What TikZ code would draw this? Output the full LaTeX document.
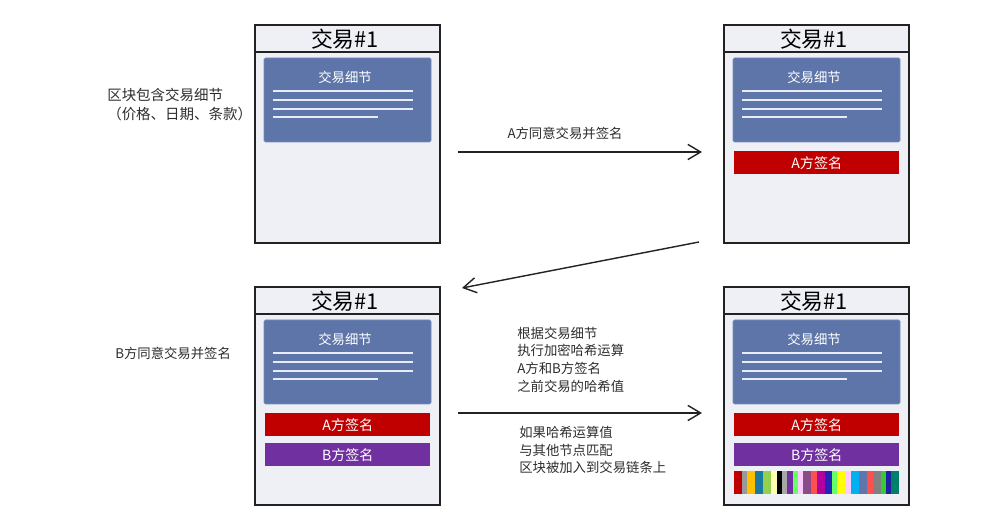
\documentclass[tikz,border=0pt]{standalone}
\usepackage{fontspec}
\setmainfont{Noto Sans CJK SC}
\usepackage{xcolor}
\usepackage{tikz}
\usetikzlibrary{arrows.meta}
\definecolor{blockFill}{RGB}{239,240,246}
\definecolor{blockEdge}{RGB}{34,34,34}
\definecolor{detailBlue}{RGB}{94,117,170}
\definecolor{detailLine}{RGB}{232,236,246}
\definecolor{signRed}{RGB}{192,0,0}
\definecolor{signPurple}{RGB}{112,48,160}
\definecolor{noteGray}{RGB}{45,45,45}

\begin{document}
\begin{tikzpicture}[x=0.025cm, y=-0.025cm,
  blockbox/.style={draw=blockEdge, fill=blockFill, line width=1.3pt},
  headline/.style={draw=blockEdge, line width=1.3pt},
  detailbox/.style={fill=detailBlue, draw=detailBlue!85!white, line width=0.4pt, rounded corners=1pt},
  detailline/.style={draw=detailLine, line width=1.1pt},
  titletext/.style={font=\fontsize{15.5}{18}\selectfont, text=black, inner sep=0pt},
  boxtext/.style={font=\fontsize{9.5}{11}\selectfont, text=white, inner sep=0pt},
  signbar/.style={anchor=north west, minimum width=4.125cm, minimum height=0.575cm, inner sep=0pt, font=\fontsize{10}{11}\selectfont, text=white},
  notetext/.style={font=\fontsize{9.5}{12.6}\selectfont, text=noteGray, align=left, inner sep=0pt, anchor=west},
  flow/.style={draw=blockEdge, line width=1pt, -{Straight Barb[length=3.2mm,width=3.8mm]}}
]
\useasboundingbox (0,0) rectangle (1000,523);

%
\begin{scope}[shift={(255,25)}]
\draw[blockbox] (0,0) rectangle (185,218);
\draw[headline] (0,27) -- (185,27);
\node[titletext] (title1) at (90,14) {交易\#1};
\draw[detailbox] (9,33) rectangle (176,117);
\node[boxtext] (detail1) at (90,52) {交易细节};
\foreach \y/\e in {66/158,75/158,84/158,92/123} \draw[detailline] (18,\y) -- (\e,\y);
\end{scope}

%
\begin{scope}[shift={(724,25)}]
\draw[blockbox] (0,0) rectangle (185,218);
\draw[headline] (0,27) -- (185,27);
\node[titletext] (title2) at (90,14) {交易\#1};
\draw[detailbox] (9,33) rectangle (176,117);
\node[boxtext] (detail2) at (90,52) {交易细节};
\foreach \y/\e in {66/158,75/158,84/158,92/123} \draw[detailline] (18,\y) -- (\e,\y);
\node[signbar, fill=signRed] (signA2) at (10,126) {A方签名};
\end{scope}

%
\begin{scope}[shift={(255,287)}]
\draw[blockbox] (0,0) rectangle (185,218);
\draw[headline] (0,27) -- (185,27);
\node[titletext] (title3) at (90,14) {交易\#1};
\draw[detailbox] (9,33) rectangle (176,117);
\node[boxtext] (detail3) at (90,52) {交易细节};
\foreach \y/\e in {66/158,75/158,84/158,92/123} \draw[detailline] (18,\y) -- (\e,\y);
\node[signbar, fill=signRed] (signA3) at (10,126) {A方签名};
\node[signbar, fill=signPurple] (signB3) at (10,156) {B方签名};
\end{scope}

%
\begin{scope}[shift={(724,287)}]
\draw[blockbox] (0,0) rectangle (185,218);
\draw[headline] (0,27) -- (185,27);
\node[titletext] (title4) at (90,14) {交易\#1};
\draw[detailbox] (9,33) rectangle (176,117);
\node[boxtext] (detail4) at (90,52) {交易细节};
\foreach \y/\e in {66/158,75/158,84/158,92/123} \draw[detailline] (18,\y) -- (\e,\y);
\node[signbar, fill=signRed] (signA4) at (10,126) {A方签名};
\node[signbar, fill=signPurple] (signB4) at (10,156) {B方签名};
% hash strip
\foreach \c/\a/\b in {C00000/0/8, 999999/8/13, FFC000/13/21, 1C7AA0/21/29, 92D050/29/37,
  FFFFB3/37/43, 000000/43/48, A6A6A6/48/53, 7030A0/53/59, 66FF66/59/64, FFCCFF/64/69,
  8B4B87/69/77, FF5050/77/83, B4009E/83/91, 2424B8/91/98, 66FF66/98/103, FFFF00/103/111,
  FFCCFF/111/117, 00B0F0/117/125, 5E76AA/125/133, FF5050/133/139, 808080/139/147,
  33CC33/147/152, 2020A0/152/157, 00806A/157/165}
  {\definecolor{stripc}{HTML}{\c}\fill[stripc] (10+\a,184) rectangle (10+\b,207);}
\end{scope}

%
\coordinate (a1s) at (458,152);
\coordinate (a1e) at (702,152);
\coordinate (a2s) at (699,242);
\coordinate (a2e) at (462,288);
\coordinate (a3s) at (458,413);
\coordinate (a3e) at (702,413);
\draw[flow] (a1s) -- (a1e);
\draw[flow] (a2s) -- (a2e);
\draw[flow] (a3s) -- (a3e);

%
\node[notetext, font=\fontsize{10.3}{13.5}\selectfont] (note1) at (107,104.5) {区块包含交易细节\\（价格、日期、条款）};
\node[notetext, anchor=center] (note2) at (565,133) {A方同意交易并签名};
\node[notetext] (note3) at (115,353) {B方同意交易并签名};
\node[notetext] (note4) at (517,359.5) {根据交易细节\\执行加密哈希运算\\A方和B方签名\\之前交易的哈希值};
\node[notetext] (note5) at (519,450) {如果哈希运算值\\与其他节点匹配\\区块被加入到交易链条上};
\end{tikzpicture}
\end{document}
